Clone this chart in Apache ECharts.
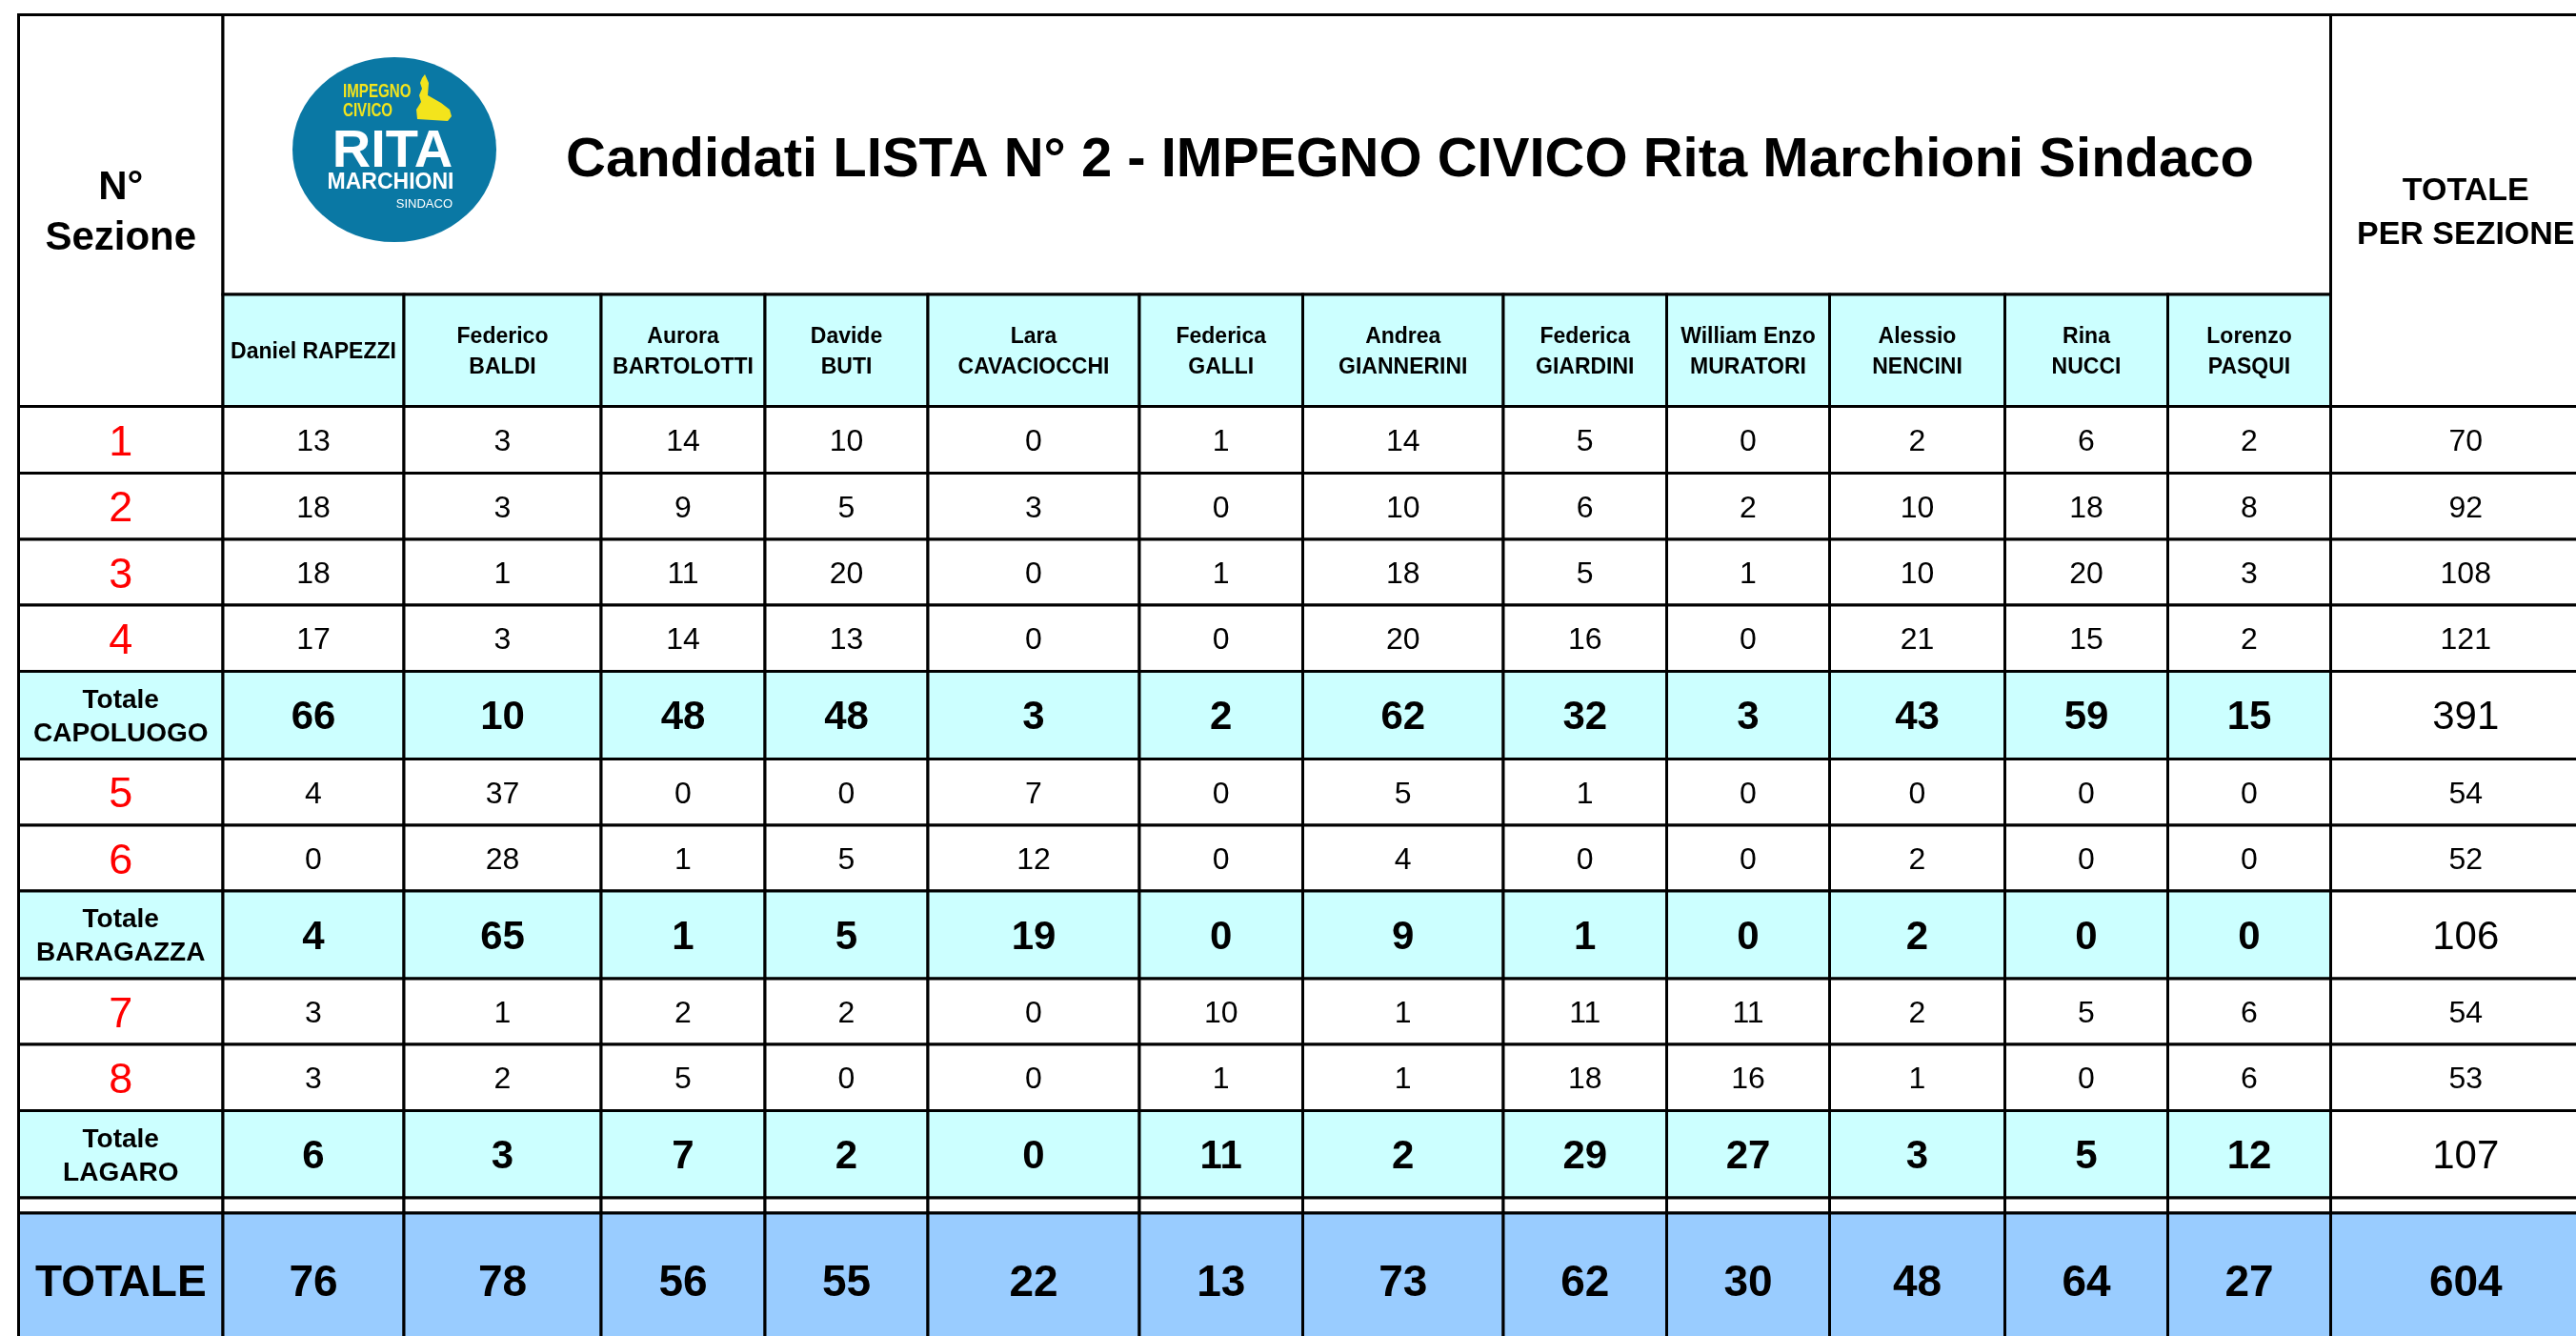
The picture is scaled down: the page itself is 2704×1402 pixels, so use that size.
<!DOCTYPE html>
<html>
<head>
<meta charset="utf-8">
<script src="https://cdn.jsdelivr.net/npm/echarts@6.0.0/dist/echarts.min.js"></script>
<style>
  html, body { margin: 0; padding: 0; background: #fff; }
  #chart { width: 2704px; height: 1402px; }
</style>
</head>
<body>
<div id="chart"></div>
<script>
// dati
const titolo = 'Candidati LISTA N° 2 - IMPEGNO CIVICO Rita Marchioni Sindaco';
const candidates = ['Daniel RAPEZZI', 'Federico\nBALDI', 'Aurora\nBARTOLOTTI', 'Davide\nBUTI',
  'Lara\nCAVACIOCCHI', 'Federica\nGALLI', 'Andrea\nGIANNERINI', 'Federica\nGIARDINI',
  'William Enzo\nMURATORI', 'Alessio\nNENCINI', 'Rina\nNUCCI', 'Lorenzo\nPASQUI'];
const rowLabels = ['1', '2', '3', '4', 'Totale\nCAPOLUOGO', '5', '6', 'Totale\nBARAGAZZA', '7', '8', 'Totale\nLAGARO'];

const sez1 = [13, 3, 14, 10, 0, 1, 14, 5, 0, 2, 6, 2];
const sez2 = [18, 3, 9, 5, 3, 0, 10, 6, 2, 10, 18, 8];
const sez3 = [18, 1, 11, 20, 0, 1, 18, 5, 1, 10, 20, 3];
const sez4 = [17, 3, 14, 13, 0, 0, 20, 16, 0, 21, 15, 2];
const totCapoluogo = [66, 10, 48, 48, 3, 2, 62, 32, 3, 43, 59, 15];
const sez5 = [4, 37, 0, 0, 7, 0, 5, 1, 0, 0, 0, 0];
const sez6 = [0, 28, 1, 5, 12, 0, 4, 0, 0, 2, 0, 0];
const totBaragazza = [4, 65, 1, 5, 19, 0, 9, 1, 0, 2, 0, 0];
const sez7 = [3, 1, 2, 2, 0, 10, 1, 11, 11, 2, 5, 6];
const sez8 = [3, 2, 5, 0, 0, 1, 1, 18, 16, 1, 0, 6];
const totLagaro = [6, 3, 7, 2, 0, 11, 2, 29, 27, 3, 5, 12];
const votes = [sez1, sez2, sez3, sez4, totCapoluogo, sez5, sez6, totBaragazza, sez7, sez8, totLagaro];

const totPerSezione = [70, 92, 108, 121, 391, 54, 52, 106, 54, 53, 107];
const totCandidati = [76, 78, 56, 55, 22, 13, 73, 62, 30, 48, 64, 27];
const totGenerale = 604;

// layout della tabella (bordi colonne / righe in unita' degli assi)
const colEdges = [19.5, 234, 424, 631, 803, 974, 1196, 1367.5, 1578, 1749.5, 1920.5, 2104.5, 2275.5, 2446.5, 2730];
const rowEdges = [15.5, 309, 426.5, 496.5, 566, 635, 704.5, 796.5, 866, 935, 1027, 1096, 1165.5, 1257, 1273, 1415];

const FONT = '"Liberation Sans", Arial, sans-serif';
const CYAN = '#ccffff';
const BLUE = '#99ccff';
const YELLOW = '#f3e41c';

const styles = {
  plain:     { bg: '#fff', color: '#000', size: 20, weight: 'normal', lh: 24 },
  head:      { bg: '#fff', color: '#000', size: 42, weight: 'bold', lh: 53 },
  totHead:   { bg: '#fff', color: '#000', size: 34, weight: 'bold', lh: 46 },
  cand:      { bg: CYAN, color: '#000', size: 23, weight: 'bold', lh: 32 },
  sezLabel:  { bg: '#fff', color: '#ff0000', size: 45, weight: 'normal', lh: 50 },
  num:       { bg: '#fff', color: '#000', size: 32, weight: 'normal', lh: 36 },
  rowTot:    { bg: '#fff', color: '#000', size: 32, weight: 'normal', lh: 36 },
  subLabel:  { bg: CYAN, color: '#000', size: 28, weight: 'bold', lh: 35 },
  subNum:    { bg: CYAN, color: '#000', size: 42, weight: 'bold', lh: 46 },
  subRowTot: { bg: '#fff', color: '#000', size: 42, weight: 'normal', lh: 46 },
  grandLabel:{ bg: BLUE, color: '#000', size: 46, weight: 'bold', lh: 50 },
  grandNum:  { bg: BLUE, color: '#000', size: 46, weight: 'bold', lh: 50 }
};

// celle
const cells = [];
cells.push({ c0: 0, c1: 1, r0: 0, r1: 2, text: 'N°\nSezione', kind: 'head' });
cells.push({ c0: 1, c1: 13, r0: 0, r1: 1, text: '', kind: 'plain' });
cells.push({ c0: 13, c1: 14, r0: 0, r1: 2, text: 'TOTALE\nPER SEZIONE', kind: 'totHead' });
candidates.forEach((name, i) => {
  cells.push({ c0: i + 1, c1: i + 2, r0: 1, r1: 2, text: name, kind: 'cand' });
});
rowLabels.forEach((lab, j) => {
  const sub = lab.startsWith('Totale');
  const r = j + 2;
  cells.push({ c0: 0, c1: 1, r0: r, r1: r + 1, text: lab, kind: sub ? 'subLabel' : 'sezLabel' });
  votes[j].forEach((v, i) => {
    cells.push({ c0: i + 1, c1: i + 2, r0: r, r1: r + 1, text: String(v), kind: sub ? 'subNum' : 'num' });
  });
  cells.push({ c0: 13, c1: 14, r0: r, r1: r + 1, text: String(totPerSezione[j]), kind: sub ? 'subRowTot' : 'rowTot' });
});
// riga vuota
for (let c = 0; c < 14; c++) {
  cells.push({ c0: c, c1: c + 1, r0: 13, r1: 14, text: '', kind: 'plain' });
}
cells.push({ c0: 0, c1: 1, r0: 14, r1: 15, text: 'TOTALE', kind: 'grandLabel' });
totCandidati.forEach((v, i) => {
  cells.push({ c0: i + 1, c1: i + 2, r0: 14, r1: 15, text: String(v), kind: 'grandNum' });
});
cells.push({ c0: 13, c1: 14, r0: 14, r1: 15, text: String(totGenerale), kind: 'grandNum' });

function renderItem(params, api) {
  const cell = cells[params.dataIndex];
  const p0 = api.coord([colEdges[cell.c0], rowEdges[cell.r0]]);
  const p1 = api.coord([colEdges[cell.c1], rowEdges[cell.r1]]);
  const st = styles[cell.kind];
  const children = [{
    type: 'rect',
    shape: { x: p0[0], y: p0[1], width: p1[0] - p0[0], height: p1[1] - p0[1] },
    style: { fill: st.bg, stroke: '#000', lineWidth: 3 }
  }];
  if (cell.text !== '') {
    children.push({
      type: 'text',
      x: (p0[0] + p1[0]) / 2,
      // il "middle" del canvas lascia le cifre un po' alte
      y: (p0[1] + p1[1]) / 2 + st.size * 0.08,
      style: {
        text: cell.text, fill: st.color, fontSize: st.size, fontWeight: st.weight,
        fontFamily: FONT, align: 'center', verticalAlign: 'middle', lineHeight: st.lh
      }
    });
  }
  return { type: 'group', children: children };
}

const chart = echarts.init(document.getElementById('chart'));
const option = {
  backgroundColor: '#fff',
  animation: false,
  grid: { left: 0, right: 0, top: 0, bottom: 0 },
  xAxis: { type: 'value', min: 0, max: 2704, show: false },
  yAxis: { type: 'value', min: 0, max: 1402, inverse: true, show: false },
  series: [{
    type: 'custom',
    coordinateSystem: 'cartesian2d',
    clip: false,
    renderItem: renderItem,
    data: cells.map((c) => [c.c0, c.r0])
  }],
  graphic: [
    {
      type: 'text', x: 594, y: 169, z: 100,
      style: { text: titolo, fontSize: 58, fontWeight: 'bold', fontFamily: FONT, fill: '#000', verticalAlign: 'middle' }
    },
    // logo
    { type: 'circle', x: 414, y: 157, z: 100, scaleY: 0.907, shape: { cx: 0, cy: 0, r: 107 }, style: { fill: '#0a78a4' } },
    { type: 'polygon', z: 101, shape: { points: [[446, 78], [450, 87], [449, 100], [463, 108], [472, 115], [474, 122], [470, 127], [438, 125], [437, 115], [442, 107], [440, 100], [443, 93], [441, 87], [443, 82]] }, style: { fill: YELLOW } },
    { type: 'text', x: 360, y: 96, z: 101, scaleX: 0.72, style: { text: 'IMPEGNO', fontSize: 21, fontWeight: 'bold', fontFamily: FONT, fill: YELLOW, verticalAlign: 'middle' } },
    { type: 'text', x: 360, y: 116, z: 101, scaleX: 0.72, style: { text: 'CIVICO', fontSize: 21, fontWeight: 'bold', fontFamily: FONT, fill: YELLOW, verticalAlign: 'middle' } },
    { type: 'text', x: 412, y: 160, z: 101, style: { text: 'RITA', fontSize: 56, fontWeight: 'bold', fontFamily: FONT, fill: '#fff', align: 'center', verticalAlign: 'middle' } },
    { type: 'text', x: 410, y: 192, z: 101, style: { text: 'MARCHIONI', fontSize: 23, fontWeight: 'bold', fontFamily: FONT, fill: '#fff', align: 'center', verticalAlign: 'middle' } },
    { type: 'text', x: 475, y: 214, z: 101, style: { text: 'SINDACO', fontSize: 13, fontFamily: FONT, fill: '#fff', align: 'right', verticalAlign: 'middle' } }
  ]
};
chart.setOption(option);
</script>
</body>
</html>
